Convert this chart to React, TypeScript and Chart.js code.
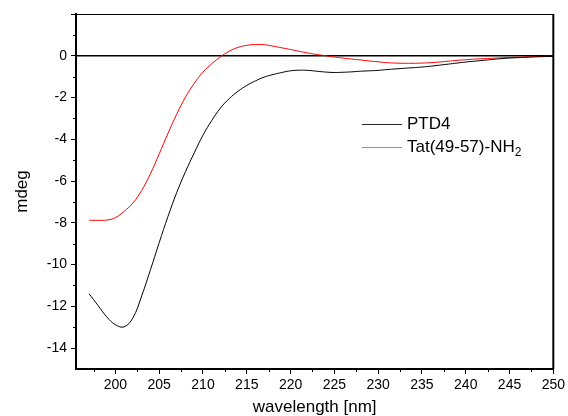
import React, { useEffect, useRef } from "react";
import { Chart, registerables } from "chart.js";

Chart.register(...registerables);

const wavelength = [
  197, 198, 199, 200, 201, 202, 203, 204, 205, 206, 207, 208, 209, 210, 211, 212, 213, 214,
  215, 216, 217, 218, 219, 220, 221, 222, 223, 224, 225, 226, 227, 228, 229, 230, 231, 232,
  233, 234, 235, 236, 237, 238, 239, 240, 241, 242, 243, 244, 245, 246, 247, 248, 249, 250,
];

const ptd4 = [
  -11.4, -11.95, -12.5, -12.88, -12.98, -12.55, -11.5, -10.25, -8.95, -7.7, -6.55, -5.55, -4.65,
  -3.8, -3.1, -2.5, -2.05, -1.7, -1.42, -1.2, -1.02, -0.9, -0.8, -0.72, -0.69, -0.7, -0.74,
  -0.78, -0.8, -0.79, -0.77, -0.74, -0.72, -0.7, -0.66, -0.63, -0.6, -0.57, -0.54, -0.5, -0.45,
  -0.4, -0.35, -0.3, -0.26, -0.22, -0.18, -0.14, -0.11, -0.09, -0.07, -0.05, -0.04, -0.03,
];

const tat = [
  -7.88, -7.88, -7.87, -7.75, -7.45, -7.05, -6.45, -5.65, -4.7, -3.72, -2.8, -1.98, -1.32,
  -0.78, -0.38, -0.05, 0.22, 0.4, 0.5, 0.54, 0.53, 0.46, 0.38, 0.3, 0.21, 0.13, 0.06, 0.0,
  -0.06, -0.11, -0.16, -0.2, -0.25, -0.29, -0.33, -0.35, -0.36, -0.36, -0.35, -0.33, -0.3,
  -0.26, -0.22, -0.19, -0.16, -0.14, -0.12, -0.1, -0.08, -0.07, -0.05, -0.04, -0.03, -0.02,
];

const seriesNames = ["PTD4", "Tat(49-57)-NH"];
const seriesSubscripts = ["", "2"];
const seriesColors = ["#000000", "#ff0000"];

const xMajorTicks = [200, 205, 210, 215, 220, 225, 230, 235, 240, 245, 250];
const xMinorTicks = [197.5, 202.5, 207.5, 212.5, 217.5, 222.5, 227.5, 232.5, 237.5, 242.5, 247.5];
const yMajorTicks = [-14, -12, -10, -8, -6, -4, -2, 0, 2];
const yTickLabels = ["-14", "-12", "-10", "-8", "-6", "-4", "-2", "0", ""];
const yMinorTicks = [-13, -11, -9, -7, -5, -3, -1, 1];

const FONT = "'Liberation Sans', Arial, Helvetica, sans-serif";

const decorPlugin = {
  id: "decor",
  beforeDatasetsDraw(chart: any) {
    const { ctx, chartArea, scales } = chart;
    const y0 = scales.y.getPixelForValue(0);
    ctx.save();
    ctx.strokeStyle = "#000";
    ctx.lineWidth = 1.5;
    ctx.beginPath();
    ctx.moveTo(chartArea.left, y0);
    ctx.lineTo(chartArea.right, y0);
    ctx.stroke();
    ctx.restore();
  },
  afterDraw(chart: any) {
    const { ctx, chartArea, scales } = chart;
    const { left, right, top, bottom } = chartArea;
    ctx.save();
    ctx.strokeStyle = "#000";
    ctx.lineWidth = 1;
    ctx.beginPath();
    ctx.moveTo(left, top + 0.5);
    ctx.lineTo(right, top + 0.5);
    ctx.stroke();
    ctx.lineWidth = 2;
    ctx.beginPath();
    ctx.moveTo(right, top);
    ctx.lineTo(right, bottom);
    ctx.stroke();
    ctx.lineWidth = 1;
    ctx.beginPath();
    xMinorTicks.forEach((v) => {
      const px = Math.round(scales.x.getPixelForValue(v)) + 0.5;
      ctx.moveTo(px, bottom);
      ctx.lineTo(px, bottom + 3);
    });
    yMinorTicks.forEach((v) => {
      const py = Math.round(scales.y.getPixelForValue(v)) + 0.5;
      ctx.moveTo(left, py);
      ctx.lineTo(left - 3, py);
    });
    ctx.stroke();
    ctx.restore();

    // legend
    const lx = 362;
    const ly = 124;
    const rowH = 23;
    seriesNames.forEach((name, i) => {
      const yy = ly + i * rowH;
      ctx.save();
      ctx.fillStyle = seriesColors[i];
      ctx.globalAlpha = i === 1 ? 0.6 : 0.85;
      ctx.fillRect(lx, yy, 40, 1);
      ctx.restore();
      ctx.save();
      ctx.fillStyle = "#000";
      ctx.textBaseline = "middle";
      ctx.textAlign = "left";
      ctx.font = `17px ${FONT}`;
      ctx.fillText(name, lx + 45, yy);
      if (seriesSubscripts[i]) {
        const w = ctx.measureText(name).width;
        ctx.font = `12px ${FONT}`;
        ctx.fillText(seriesSubscripts[i], lx + 45 + w, yy + 6);
      }
      ctx.restore();
    });
  },
};

export default function App() {
  const canvasRef = useRef<HTMLCanvasElement | null>(null);

  useEffect(() => {
    document.body.style.margin = "0";
    const canvas = canvasRef.current;
    if (!canvas) return;
    const chart = new Chart(canvas, {
      type: "line",
      data: {
        datasets: [
          {
            label: seriesNames[0],
            data: wavelength.map((x, i) => ({ x, y: ptd4[i] })),
            borderColor: seriesColors[0],
            borderWidth: 1,
            pointRadius: 0,
            tension: 0.4,
          },
          {
            label: seriesNames[1] + seriesSubscripts[1],
            data: wavelength.map((x, i) => ({ x, y: tat[i] })),
            borderColor: seriesColors[1],
            borderWidth: 1,
            pointRadius: 0,
            tension: 0.4,
          },
        ],
      },
      options: {
        animation: false,
        responsive: false,
        maintainAspectRatio: false,
        layout: { padding: { left: 0, top: 14, right: 11, bottom: 0 } },
        plugins: {
          legend: { display: false },
          tooltip: { enabled: false },
        },
        scales: {
          x: {
            type: "linear",
            min: 195.5,
            max: 250,
            afterFit: (scale: any) => {
              scale.height = 47;
            },
            afterBuildTicks: (scale: any) => {
              scale.ticks = xMajorTicks.map((v) => ({ value: v }));
            },
            ticks: {
              color: "#000",
              font: { family: FONT, size: 14 },
              padding: 3,
              maxRotation: 0,
              autoSkip: false,
              callback: (v: any) => String(v),
            },
            grid: {
              drawOnChartArea: false,
              drawTicks: true,
              tickLength: 5,
              color: "#000",
            },
            border: { display: true, color: "#000", width: 2 },
            title: {
              display: true,
              text: "wavelength [nm]",
              color: "#000",
              font: { family: FONT, size: 17, lineHeight: 1 },
              padding: { top: 0, bottom: 0 },
            },
          },
          y: {
            type: "linear",
            min: -15,
            max: 2,
            afterFit: (scale: any) => {
              scale.width = 76;
            },
            afterBuildTicks: (scale: any) => {
              scale.ticks = yMajorTicks.map((v) => ({ value: v }));
            },
            ticks: {
              color: "#000",
              font: { family: FONT, size: 14 },
              padding: 4,
              autoSkip: false,
              callback: (v: any) => {
                const idx = yMajorTicks.indexOf(Number(v));
                return idx >= 0 ? yTickLabels[idx] : "";
              },
            },
            grid: {
              drawOnChartArea: false,
              drawTicks: true,
              tickLength: 5,
              color: "#000",
            },
            border: { display: true, color: "#000", width: 2 },
            title: {
              display: true,
              text: "mdeg",
              color: "#000",
              font: { family: FONT, size: 17, lineHeight: 1 },
              padding: { top: 14, bottom: 0 },
            },
          },
        },
      },
      plugins: [decorPlugin],
    });
    return () => chart.destroy();
  }, []);

  return (
    <div style={{ width: 568, height: 416 }}>
      <canvas ref={canvasRef} width={568} height={416} />
    </div>
  );
}
